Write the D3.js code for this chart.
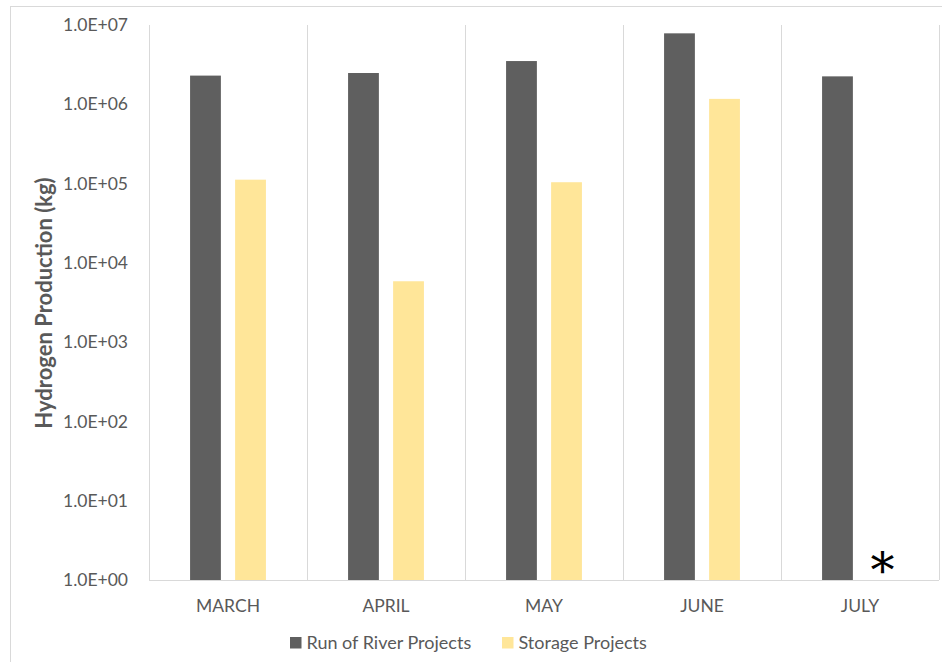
<!DOCTYPE html>
<html>
<head>
<meta charset="utf-8">
<script src="https://cdn.jsdelivr.net/npm/d3@7"></script>
<style>
  html, body { margin: 0; padding: 0; background: #fff; }
  svg { display: block; font-family: Lato, "Open Sans", sans-serif; }
</style>
</head>
<body>
<svg id="chart" width="942" height="662"></svg>
<script>
const categories = ["MARCH", "APRIL", "MAY", "JUNE", "JULY"];
const seriesNames = ["Run of River Projects", "Storage Projects"];
const runOfRiver = [2.30e6, 2.48e6, 3.51e6, 7.85e6, 2.25e6];
const storage = [1.12e5, 5.86e3, 1.04e5, 1.17e6, null];
const yTicks = [1e0, 1e1, 1e2, 1e3, 1e4, 1e5, 1e6, 1e7];
const yTitle = "Hydrogen Production (kg)";
const colors = ["#5f5f5f", "#ffe699"];

const svg = d3.select("#chart");
const margin = { left: 149, right: 3, top: 25, bottom: 82 };
const W = 942, H = 662;

// outer chart border
svg.append("rect").attr("x", 10.5).attr("y", 6.5).attr("width", 960).attr("height", 700)
  .attr("fill", "none").attr("stroke", "#d9d9d9").attr("stroke-width", 1);

const x0 = d3.scaleBand().domain(categories).range([margin.left, W - margin.right]).padding(0);
const bw = x0.bandwidth();
const x1 = d3.scaleBand().domain(seriesNames).range([bw * 0.26, bw * 0.74]).paddingInner(0.316).paddingOuter(0);
const y = d3.scaleLog().domain([1, 1e7]).range([H - margin.bottom, margin.top]);

// vertical gridlines at category boundaries
const bounds = categories.map(c => x0(c)).concat([x0(categories[categories.length - 1]) + bw]);
svg.append("g").selectAll("line").data(bounds).join("line")
  .attr("x1", d => Math.round(d) + 0.5).attr("x2", d => Math.round(d) + 0.5)
  .attr("y1", y(1e7)).attr("y2", y(1))
  .attr("stroke", "#d9d9d9").attr("stroke-width", 1);

// bars
const data = [];
categories.forEach((c, i) => {
  data.push({ cat: c, s: seriesNames[0], v: runOfRiver[i], col: colors[0] });
  if (storage[i] != null) data.push({ cat: c, s: seriesNames[1], v: storage[i], col: colors[1] });
});
svg.append("g").selectAll("rect").data(data).join("rect")
  .attr("x", d => x0(d.cat) + x1(d.s))
  .attr("width", x1.bandwidth())
  .attr("y", d => y(d.v))
  .attr("height", d => y(1) - y(d.v))
  .attr("fill", d => d.col);

// baseline
svg.append("line").attr("x1", margin.left).attr("x2", W - margin.right)
  .attr("y1", Math.round(y(1)) + 0.5).attr("y2", Math.round(y(1)) + 0.5)
  .attr("stroke", "#d9d9d9").attr("stroke-width", 1);

// y axis labels
const yAxis = d3.axisLeft(y).tickValues(yTicks).tickSize(0).tickPadding(21)
  .tickFormat(d => {
    const e = Math.round(Math.log10(d));
    return "1.0E+" + String(e).padStart(2, "0");
  });
const gy = svg.append("g").attr("transform", `translate(${margin.left},0)`).call(yAxis);
gy.select(".domain").remove();
gy.selectAll("text").attr("fill", "#595959").style("font-size", "17.5px").style("font-family", "Lato, sans-serif");

// x axis labels
const xAxis = d3.axisBottom(x0).tickSize(0).tickPadding(20);
const gx = svg.append("g").attr("transform", `translate(0,${y(1)})`).call(xAxis);
gx.select(".domain").remove();
gx.selectAll("text").attr("fill", "#595959").style("font-size", "17.5px").style("font-family", "Lato, sans-serif");

// y title
svg.append("text")
  .attr("transform", `translate(52,${303}) rotate(-90)`)
  .attr("text-anchor", "middle")
  .attr("fill", "#595959")
  .style("font-size", "22px").style("font-weight", "bold")
  .text(yTitle);

// asterisk annotation for July storage (no data)
svg.append("text")
  .attr("x", x0("JULY") + x1(seriesNames[1]) + x1.bandwidth() / 2)
  .attr("y", y(1) + 7)
  .attr("text-anchor", "middle")
  .attr("fill", "#000")
  .style("font-family", "'DejaVu Serif', serif")
  .style("font-size", "48px")
  .text("*");

// legend
const legend = svg.append("g").attr("transform", "translate(290,637)");
const items = [
  { name: seriesNames[0], col: colors[0], x: 0 },
  { name: seriesNames[1], col: colors[1], x: 212 }
];
items.forEach(it => {
  const g = legend.append("g").attr("transform", `translate(${it.x},0)`);
  g.append("rect").attr("width", 11.5).attr("height", 11.5).attr("fill", it.col);
  g.append("text").attr("x", 16.5).attr("y", 11.5).attr("fill", "#595959")
    .style("font-size", "18px").text(it.name);
});
</script>
</body>
</html>
